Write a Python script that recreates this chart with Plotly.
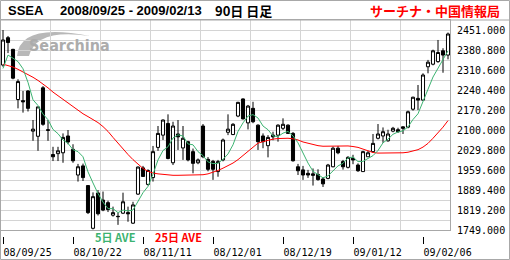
import plotly.graph_objects as go

# ---------------- data ----------------
DAY_INDEX = list(range(90))
OPEN = [2328, 2424, 2383, 2207, 2203, 2237, 2096, 2078, 2248, 2101,
        2014, 2017, 2020, 2079, 2032, 1942, 1974, 1905, 1755, 1879,
        1854, 1845, 1801, 1797, 1808, 1810, 1773, 1875, 1967, 1909,
        1933, 2039, 2082, 2123, 1985, 2086, 2037, 2059, 2024, 1985,
        2114, 1997, 1990, 1954, 1995, 2092, 2084, 2149, 2209, 2125,
        2176, 2117, 2079, 2045, 2082, 2082, 2106, 2117, 2088, 1971,
        1960, 1948, 1946, 1944, 1928, 1930, 1971, 2036, 1989, 1969,
        2001, 1977, 1954, 2006, 2024, 2071, 2079, 2062, 2096, 2101,
        2111, 2110, 2173, 2211, 2205, 2322, 2331, 2340, 2378, 2363]
HIGH = [2451, 2430, 2385, 2278, 2237, 2240, 2135, 2181, 2254, 2135,
        2041, 2041, 2088, 2100, 2050, 1981, 1982, 1905, 1881, 1889,
        1884, 1852, 1831, 1810, 1880, 1831, 1848, 1972, 1974, 1962,
        2044, 2114, 2137, 2155, 2129, 2135, 2114, 2062, 2035, 2000,
        2121, 2005, 1995, 1995, 2070, 2155, 2124, 2199, 2211, 2188,
        2199, 2120, 2088, 2082, 2094, 2120, 2141, 2120, 2093, 1981,
        1974, 1960, 1965, 1962, 1935, 1981, 2042, 2044, 1995, 2008,
        2013, 1983, 2027, 2027, 2086, 2121, 2109, 2101, 2111, 2108,
        2113, 2168, 2217, 2258, 2299, 2346, 2382, 2416, 2387, 2442]
LOW = [2322, 2370, 2278, 2176, 2161, 2165, 2062, 2027, 2115, 2062,
       1991, 1991, 1985, 2050, 1985, 1919, 1921, 1805, 1751, 1800,
       1815, 1812, 1796, 1767, 1805, 1778, 1770, 1872, 1935, 1905,
       1919, 2027, 2065, 1997, 1977, 2030, 1995, 1990, 1948, 1980,
       2001, 1955, 1925, 1936, 1990, 2082, 2082, 2145, 2137, 2102,
       2124, 2030, 2036, 2004, 2064, 2059, 2100, 2086, 1989, 1942,
       1925, 1932, 1905, 1922, 1900, 1927, 1969, 2015, 1961, 1965,
       1980, 1953, 1954, 2006, 2020, 2067, 2055, 2059, 2092, 2090,
       2086, 2106, 2168, 2170, 2203, 2299, 2327, 2336, 2301, 2348]
CLOSE = [2416, 2407, 2282, 2270, 2199, 2176, 2103, 2181, 2120, 2099,
         2006, 2027, 2074, 2058, 1992, 1971, 1933, 1810, 1866, 1806,
         1819, 1821, 1810, 1796, 1848, 1806, 1837, 1970, 1937, 1958,
         2024, 2088, 2135, 2000, 2114, 2076, 2071, 1995, 1983, 1995,
         2006, 1962, 1962, 1989, 2065, 2103, 2120, 2197, 2139, 2184,
         2129, 2059, 2059, 2074, 2076, 2117, 2120, 2088, 1992, 1957,
         1942, 1942, 1941, 1926, 1911, 1977, 2036, 2020, 1971, 2004,
         1995, 1957, 2024, 2020, 2053, 2086, 2094, 2086, 2106, 2094,
         2106, 2164, 2215, 2205, 2293, 2338, 2378, 2372, 2363, 2437]
MA5 = [2316, 2363, 2352, 2340, 2315, 2267, 2206, 2186, 2156, 2136,
       2102, 2087, 2065, 2053, 2031, 2024, 2006, 1953, 1914, 1877,
       1847, 1824, 1824, 1810, 1819, 1816, 1819, 1851, 1880, 1902,
       1945, 1995, 2028, 2041, 2072, 2083, 2079, 2051, 2048, 2024,
       2010, 1988, 1982, 1983, 1997, 2016, 2048, 2095, 2125, 2149,
       2154, 2142, 2114, 2101, 2079, 2077, 2089, 2095, 2079, 2055,
       2020, 1984, 1955, 1942, 1932, 1939, 1958, 1974, 1983, 2002,
       2005, 1989, 1990, 2000, 2010, 2028, 2055, 2068, 2085, 2093,
       2097, 2111, 2137, 2157, 2197, 2243, 2286, 2317, 2349, 2378]
MA25 = [2331, 2327, 2321, 2313, 2304, 2295, 2285, 2274, 2262, 2248,
        2233, 2220, 2207, 2194, 2180, 2168, 2157, 2147, 2137, 2126,
        2112, 2095, 2074, 2053, 2032, 2014, 1996, 1979, 1965, 1955,
        1949, 1946, 1944, 1942, 1941, 1941, 1941, 1941, 1941, 1942,
        1943, 1946, 1951, 1958, 1966, 1975, 1984, 1996, 2011, 2026,
        2042, 2054, 2059, 2064, 2068, 2070, 2071, 2071, 2069, 2065,
        2058, 2053, 2049, 2045, 2043, 2043, 2044, 2045, 2045, 2044,
        2042, 2039, 2033, 2026, 2021, 2019, 2019, 2019, 2019, 2019,
        2020, 2022, 2026, 2031, 2040, 2053, 2071, 2089, 2110, 2133]

X_TICK_POS = [0, 14, 28, 42, 56, 70, 84]
X_TICK_LABELS = ["08/09/25", "08/10/22", "08/11/11", "08/12/01",
                 "08/12/19", "09/01/12", "09/02/06"]
X_GRID_POS = [9.4, 19.4, 29.4, 39.4, 49.4, 59.4, 69.4, 79.4]
Y_GRID_VALUES = [1749.0, 1784.1, 1819.2, 1854.3, 1889.4, 1924.5, 1959.6,
                 1994.7, 2029.8, 2064.9, 2100.0, 2135.1, 2170.2, 2205.3,
                 2240.4, 2275.5, 2310.6, 2345.7, 2380.8, 2415.9, 2451.0,
                 2486.1]
Y_TICK_LABELS = ["1749.000", "", "1819.200", "", "1889.400", "", "1959.600",
                 "", "2029.800", "", "2100.000", "", "2170.200", "",
                 "2240.400", "", "2310.600", "", "2380.800", "", "2451.000",
                 ""]

TITLE_CODE = "SSEA"
TITLE_RANGE = "2008/09/25 - 2009/02/13"
TITLE_SPAN = "90日 日足"
BRAND = "サーチナ・中国情報局"
LEGEND_MA5 = "5日 AVE"
LEGEND_MA25 = "25日 AVE"

# ---------------- style ----------------
W, H = 510, 260
ML, MR, MT, MB = 0, 60, 20, 0
PW, PH = W - ML - MR, H - MT - MB
GRID = "#d4d4d4"
BORDER = "#a8a8a8"
GREEN = "#3cb371"
RED = "#ff0000"
MONO = "DejaVu Sans Mono"
JP = "Noto Sans CJK JP"
LAT = "Liberation Sans"


def px(x):
    return (x - ML) / PW


def py(y):
    return (H - MB - y) / PH


fig = go.Figure()
fig.add_trace(go.Candlestick(
    x=DAY_INDEX, open=OPEN, high=HIGH, low=LOW, close=CLOSE,
    increasing=dict(line=dict(color="black", width=1), fillcolor="white"),
    decreasing=dict(line=dict(color="black", width=1), fillcolor="black"),
    whiskerwidth=0, hoverinfo="skip", showlegend=False,
    xaxis="x", yaxis="y"))
fig.add_trace(go.Scatter(x=DAY_INDEX, y=MA25, mode="lines",
                         line=dict(color=RED, width=1), hoverinfo="skip",
                         showlegend=False, xaxis="x", yaxis="y"))
fig.add_trace(go.Scatter(x=DAY_INDEX, y=MA5, mode="lines",
                         line=dict(color=GREEN, width=1), hoverinfo="skip",
                         showlegend=False, xaxis="x2", yaxis="y"))

xr = [-0.6, 89.4]
fig.update_layout(
    width=W, height=H,
    margin=dict(l=ML, r=MR, t=MT, b=MB, pad=0),
    paper_bgcolor="white", plot_bgcolor="white",
    showlegend=False, boxgap=0.12,
    xaxis=dict(domain=[0, 1], range=xr, anchor="y",
               tickvals=X_GRID_POS, showticklabels=False, ticks="",
               showgrid=True, gridcolor=GRID, gridwidth=1,
               zeroline=False, showline=True, mirror=True,
               linecolor=BORDER, linewidth=1,
               rangeslider=dict(visible=False), automargin=False,
               fixedrange=True),
    xaxis2=dict(overlaying="x", anchor="free", position=py(236),
                range=xr, tickvals=X_TICK_POS, ticktext=X_TICK_LABELS,
                ticks="outside", ticklen=7, tickwidth=1, tickcolor="black",
                ticklabelposition="outside right", ticklabelstandoff=7,
                showgrid=False, zeroline=False, showline=False,
                tickfont=dict(family=MONO, size=10, color="black"),
                automargin=False, fixedrange=True),
    yaxis=dict(domain=[py(230), 1], range=[1749.0, 2486.1], side="right",
               anchor="x", tickvals=Y_GRID_VALUES, ticktext=Y_TICK_LABELS,
               ticks="", showgrid=True, gridcolor=GRID, gridwidth=1,
               zeroline=False, showline=True, mirror=True,
               linecolor=BORDER, linewidth=1, ticklabelstandoff=4,
               tickfont=dict(family=MONO, size=10, color="black"),
               automargin=False, fixedrange=True),
)

# outer frame and header separator
fig.add_shape(type="rect", xref="paper", yref="paper",
              x0=px(0.5), x1=px(509.5), y0=py(259.5), y1=py(0.5),
              line=dict(color=BORDER, width=1), layer="above")
fig.add_shape(type="line", xref="paper", yref="paper",
              x0=px(0), x1=px(510), y0=py(20), y1=py(20),
              line=dict(color=BORDER, width=1), layer="above")


# watermark swoosh
def pt(x, y):
    return f"{px(x):.4f},{py(y):.4f}"


swoosh = (f"M {pt(17, 56)} Q {pt(20, 22)} {pt(90, 36)} "
          f"Q {pt(36, 28)} {pt(29, 56)} Z")
fig.add_shape(type="path", path=swoosh, xref="paper", yref="paper",
              fillcolor="#b8b8b8", line=dict(width=0), layer="below")
fig.add_annotation(x=px(27), y=py(46), xref="paper", yref="paper",
                   text="<b>Searchina</b>", showarrow=False,
                   xanchor="left", yanchor="middle",
                   font=dict(family="DejaVu Sans Condensed", size=16,
                             color="#acacac"))

# header texts
for xpos, txt, fam in [(6, TITLE_CODE, LAT), (58, TITLE_RANGE, LAT),
                       (213, TITLE_SPAN, JP)]:
    fig.add_annotation(x=px(xpos), y=py(11), xref="paper", yref="paper",
                       text=f"<b>{txt}</b>", showarrow=False,
                       xanchor="left", yanchor="middle",
                       font=dict(family=fam, size=13, color="black"))
fig.add_annotation(x=px(502), y=py(11), xref="paper", yref="paper",
                   text=f"<b>{BRAND}</b>", showarrow=False,
                   xanchor="right", yanchor="middle",
                   font=dict(family=JP, size=13, color=RED))

# moving-average captions
fig.add_annotation(x=px(93), y=py(237), xref="paper", yref="paper",
                   text=f"<b>{LEGEND_MA5}</b>", showarrow=False,
                   xanchor="left", yanchor="middle",
                   font=dict(family=JP, size=11, color=GREEN))
fig.add_annotation(x=px(153), y=py(237), xref="paper", yref="paper",
                   text=f"<b>{LEGEND_MA25}</b>", showarrow=False,
                   xanchor="left", yanchor="middle",
                   font=dict(family=JP, size=11, color=RED))

fig.write_html("out.html", config=dict(displayModeBar=False, staticPlot=True))
